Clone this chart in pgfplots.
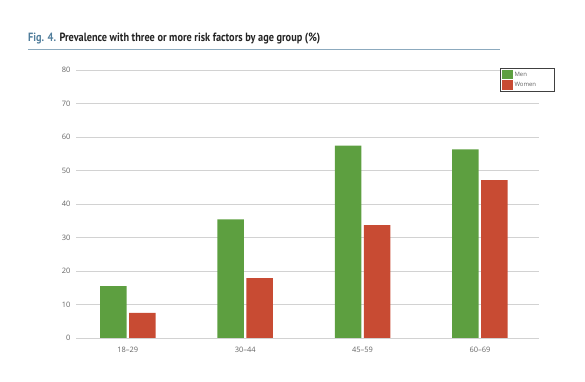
\documentclass[border=0pt]{standalone}
\usepackage{pgfplots}
\pgfplotsset{compat=1.18}
\usepackage{fontspec}
\setmainfont{Open Sans}
\newfontfamily\titlefont[FakeStretch=0.86]{PT Sans}
\definecolor{mengreen}{RGB}{93,159,64}
\definecolor{womenred}{RGB}{200,75,51}
\definecolor{titleblue}{RGB}{80,125,155}
\definecolor{titledark}{RGB}{35,35,35}
\definecolor{ticktext}{RGB}{100,100,100}
\definecolor{gridgrey}{RGB}{210,210,210}
\definecolor{rulecol}{RGB}{140,170,190}
\begin{document}
\begin{tikzpicture}
\begin{axis}[
  scale only axis,
  width=463bp, height=268bp,
  ymin=0, ymax=80,
  xmin=-0.441, xmax=3.503,
  ytick={0,10,...,80},
  xtick={0,1,2,3},
  xticklabels={18--29,30--44,45--59,60--69},
  axis line style={draw=none},
  axis x line*=bottom,
  axis y line*=left,
  major tick length=0pt,
  ymajorgrids,
  grid style={gridgrey, line width=0.8bp},
  /pgf/number format/assume math mode=true,
  tick label style={font=\fontsize{7.5}{9}\selectfont, text=ticktext},
  yticklabel style={xshift=-2bp},
  xticklabel style={yshift=-6bp},
  ybar=2.5bp,
  bar width=26.5bp,
  legend style={at={(rel axis cs:0.916,1.006)}, anchor=north west,
    draw=black!75, line width=0.6bp,
    font=\fontsize{6}{7}\selectfont, text=ticktext,
    inner xsep=1.5bp, inner ysep=1bp, row sep=0.5bp,
    text width=36bp, align=left},
  legend cell align=left,
  legend image code/.code={\fill[#1] (0bp,-4.6bp) rectangle (10.6bp,5bp);},
]
\addplot[fill=mengreen, draw=none] coordinates {(0,15.5) (1,35.4) (2,57.4) (3,56.3)};
\addplot[fill=womenred, draw=none] coordinates {(0,7.5) (1,17.9) (2,33.7) (3,47.1)};
\legend{Men,Women}
\end{axis}
\useasboundingbox (-76bp,-44bp) rectangle (509bp,338bp);
\node[anchor=base west, inner sep=0pt, font=\titlefont\bfseries\fontsize{12}{14}\selectfont] at (-48bp,296bp)
  {\textcolor{titleblue}{Fig. 4.} \textcolor{titledark}{Prevalence with three or more risk factors by age group (\%)}};
\draw[rulecol, line width=1bp] (-48bp,288bp) -- (424bp,288bp);
\end{tikzpicture}
\end{document}
